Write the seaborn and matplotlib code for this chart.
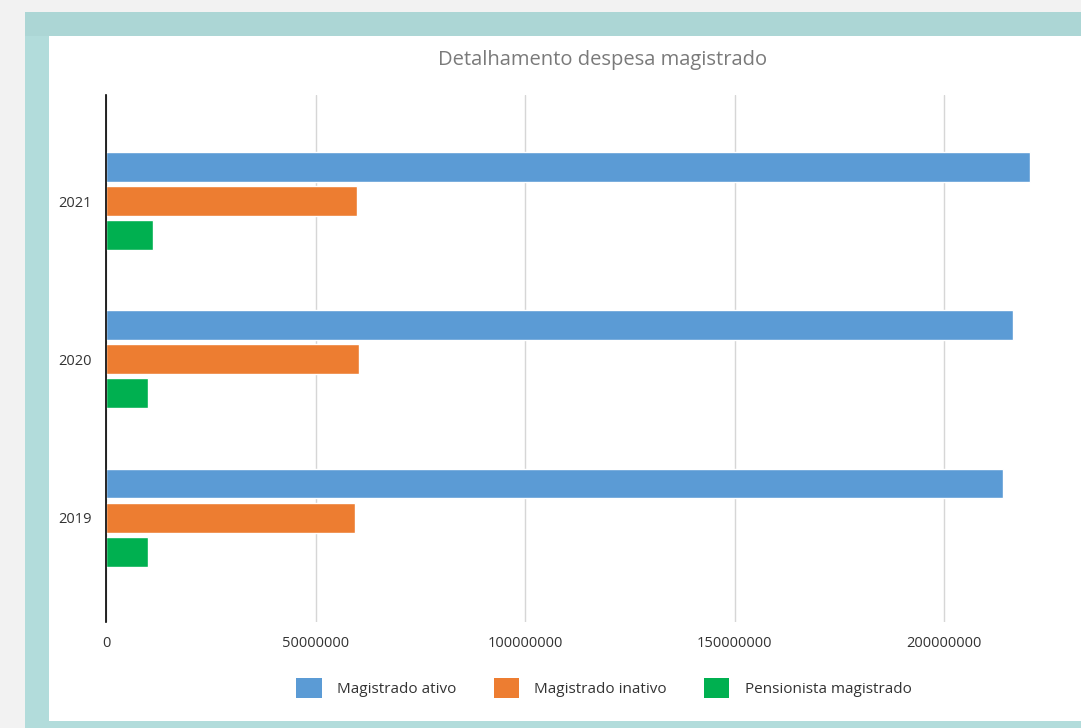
import matplotlib
matplotlib.use("Agg")
import matplotlib.pyplot as plt
from matplotlib.patches import Rectangle, Patch
import pandas as pd
import seaborn as sns

# Chart data
years = ["2021", "2020", "2019"]
series = ["Magistrado ativo", "Magistrado inativo", "Pensionista magistrado"]
ativo = [220500000, 216500000, 214100000]
inativo = [59900000, 60400000, 59400000]
pensionista = [11200000, 10000000, 10000000]
x_ticks = [0, 50000000, 100000000, 150000000, 200000000]
x_tick_labels = ["0", "50000000", "100000000", "150000000", "200000000"]
colors = ["#5b9bd5", "#ed7d31", "#00b050"]

df = pd.DataFrame({
    "ano": years * 3,
    "serie": [series[0]] * 3 + [series[1]] * 3 + [series[2]] * 3,
    "valor": ativo + inativo + pensionista,
})

sns.set_theme(style="white")
plt.rcParams["font.family"] = ["Open Sans", "DejaVu Sans"]

fig = plt.figure(figsize=(10.81, 7.28), dpi=100, facecolor="#f2f2f2")

# Framed panel behind the chart
W, H = 1081, 728
def frect(x0, y0, x1, y1, color):
    fig.patches.append(Rectangle((x0 / W, 1 - y1 / H), (x1 - x0) / W, (y1 - y0) / H,
                                 transform=fig.transFigure, facecolor=color,
                                 edgecolor="none", zorder=-10))
frect(25, 12, W, H, "#b2dcdb")
frect(25, 12, W, 36, "#acd6d5")
frect(49, 36, W, 721, "#ffffff")

ax = fig.add_axes([106 / W, 1 - 622 / H, 943 / W, 527 / H])
ax.set_facecolor("none")

sns.barplot(data=df, x="valor", y="ano", hue="serie", order=years,
            hue_order=series, palette=colors, orient="y",
            width=0.645, gap=0.12, ax=ax, legend=False, saturation=1)

ax.set_xlim(0, 225000000)
ax.set_ylim(2.66, -0.67)
ax.set_xticks(x_ticks)
ax.set_xticklabels(x_tick_labels)
ax.xaxis.grid(True, color="#d6d6d6", linewidth=1)
ax.set_axisbelow(True)
for s in ["top", "right", "bottom"]:
    ax.spines[s].set_visible(False)
ax.spines["left"].set_color("#000000")
ax.spines["left"].set_linewidth(1.2)
ax.tick_params(axis="both", length=0, labelsize=10.5, colors="#333333")
ax.tick_params(axis="x", pad=10)
ax.tick_params(axis="y", pad=10)
ax.set_xlabel("")
ax.set_ylabel("")

fig.text(603 / W, 1 - 60 / H, "Detalhamento despesa magistrado", ha="center",
         va="center", fontsize=14.5, color="#7a7a7a")

handles = [Patch(facecolor=c, edgecolor="none") for c in colors]
fig.legend(handles, series, loc="center", bbox_to_anchor=(604 / W, 1 - 688 / H),
           ncol=3, frameon=False, fontsize=11, handlelength=1.65, handleheight=1.65,
           columnspacing=2.45, handletextpad=1.0, labelcolor="#333333")

fig.savefig("out.png", dpi=100, facecolor=fig.get_facecolor())
